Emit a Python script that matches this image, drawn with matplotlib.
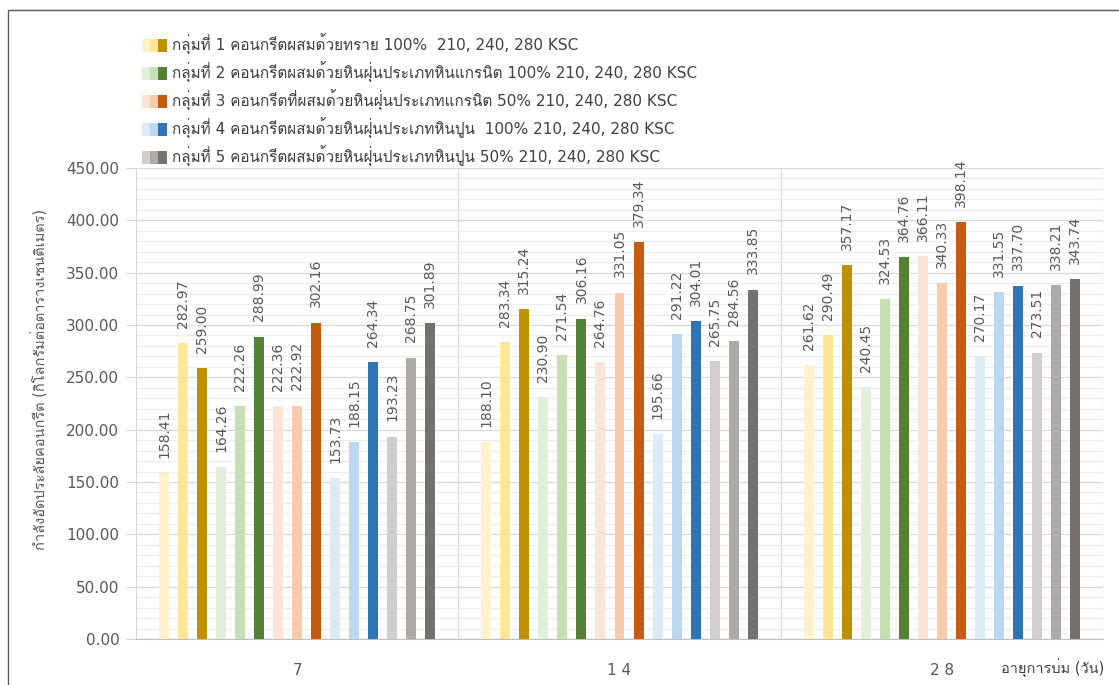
import matplotlib
matplotlib.use("Agg")
import matplotlib.pyplot as plt
import numpy as np
from matplotlib.patches import Rectangle
from matplotlib.legend_handler import HandlerTuple

# curing age (days) and compressive strength, ksc
ages = ["7", "1 4", "2 8"]
group_names = [
    "กลุ่มที่ 1 คอนกรีตผสมด้วยทราย 100%  210, 240, 280 KSC",
    "กลุ่มที่ 2 คอนกรีตผสมด้วยหินฝุ่นประเภทหินแกรนิต 100% 210, 240, 280 KSC",
    "กลุ่มที่ 3 คอนกรีตที่ผสมด้วยหินฝุ่นประเภทแกรนิต 50% 210, 240, 280 KSC",
    "กลุ่มที่ 4 คอนกรีตผสมด้วยหินฝุ่นประเภทหินปูน  100% 210, 240, 280 KSC",
    "กลุ่มที่ 5 คอนกรีตผสมด้วยหินฝุ่นประเภทหินปูน 50% 210, 240, 280 KSC",
]
design_strength = ["210", "240", "280"]

day7 = [158.41, 282.97, 259.00, 164.26, 222.26, 288.99, 222.36, 222.92, 302.16,
        153.73, 188.15, 264.34, 193.23, 268.75, 301.89]
day14 = [188.10, 283.34, 315.24, 230.90, 271.54, 306.16, 264.76, 331.05, 379.34,
         195.66, 291.22, 304.01, 265.75, 284.56, 333.85]
day28 = [261.62, 290.49, 357.17, 240.45, 324.53, 364.76, 366.11, 340.33, 398.14,
         270.17, 331.55, 337.70, 273.51, 338.21, 343.74]

# light / mid / dark shade for each group (210, 240, 280 ksc)
colors = [
    ["#FFF2CC", "#FFE699", "#BF9000"],
    ["#E2EFDA", "#C6E0B4", "#548235"],
    ["#FCE4D6", "#F8CBAD", "#C55A11"],
    ["#DDEBF7", "#BDD7EE", "#2E75B6"],
    ["#D0CECE", "#AEAAAA", "#767171"],
]

# DejaVu for latin and digits, Loma picks up the Thai glyphs
plt.rcParams["font.family"] = ["DejaVu Sans", "Loma"]

W, H = 1119, 685
fig = plt.figure(figsize=(W / 100, H / 100), dpi=100)
ax = fig.add_axes([136 / W, 1 - 639 / H, (1103 - 136) / W, (639 - 168) / H])

values = np.array([day7, day14, day28])   # shape (ages, series)
x = np.arange(len(ages))
step = 0.059
width = 0.031

handles = []
for g in range(len(group_names)):
    row = []
    for s in range(len(design_strength)):
        k = g * 3 + s
        bars = ax.bar(x + (k - 7) * step, values[:, k], width,
                      color=colors[g][s], zorder=3)
        for rect, v in zip(bars, values[:, k]):
            ax.annotate(f"{v:.2f}", (rect.get_x() + rect.get_width() / 2, v),
                        xytext=(0, 11), textcoords="offset points",
                        rotation=90, ha="center", va="bottom",
                        fontsize=10, color="#595959")
        row.append(bars[0])
    handles.append(tuple(row))

ax.set_xlim(-0.5, 2.5)
ax.set_ylim(0, 450)
ax.set_xticks(x)
ax.set_xticklabels(ages)
ax.set_yticks(np.arange(0, 451, 50))
ax.set_yticks(np.arange(0, 451, 10), minor=True)
ax.yaxis.set_major_formatter(matplotlib.ticker.FormatStrFormatter("%.2f"))
ax.tick_params(axis="y", which="major", length=7, color="#D9D9D9",
               labelsize=11, labelcolor="#595959", pad=5)
ax.tick_params(axis="y", which="minor", length=0)
ax.tick_params(axis="x", length=0, labelsize=11, labelcolor="#595959", pad=17)

ax.grid(axis="y", which="major", color="#D9D9D9", lw=0.9, zorder=0)
ax.grid(axis="y", which="minor", color="#EDEDED", lw=0.9, zorder=0)
for xv in (0.5, 1.5, 2.5):
    ax.axvline(xv, color="#D9D9D9", lw=0.9, zorder=1)

for side in ("top", "right"):
    ax.spines[side].set_visible(False)
ax.spines["left"].set_color("#D9D9D9")
ax.spines["bottom"].set_color("#BFBFBF")

ax.set_ylabel("กำลังอัดประลัยคอนกรีต (กิโลกรัมต่อตารางเซนติเมตร)",
              fontsize=10.5, color="#595959")
ax.yaxis.set_label_coords(-0.091, 0.552)
fig.text(1001 / W, 1 - 668 / H, "อายุการบ่ม (วัน)", fontsize=10.5,
         color="#404040", ha="left", va="center")

fig.legend(handles, group_names, loc="upper left",
           bbox_to_anchor=(139 / W, 1 - 31 / H), frameon=False,
           handler_map={tuple: HandlerTuple(ndivide=None, pad=0)},
           fontsize=11, labelcolor="#404040", handlelength=1.6,
           handleheight=0.95, handletextpad=0.35, labelspacing=0.44,
           borderaxespad=0, borderpad=0.2)

# outer chart frame
fig.add_artist(Rectangle((8 / W, -0.05), 1.1, 1 - 10 / H + 0.05,
                         transform=fig.transFigure, fill=False,
                         edgecolor="#595959", lw=1))

fig.savefig("out.png", dpi=100)
